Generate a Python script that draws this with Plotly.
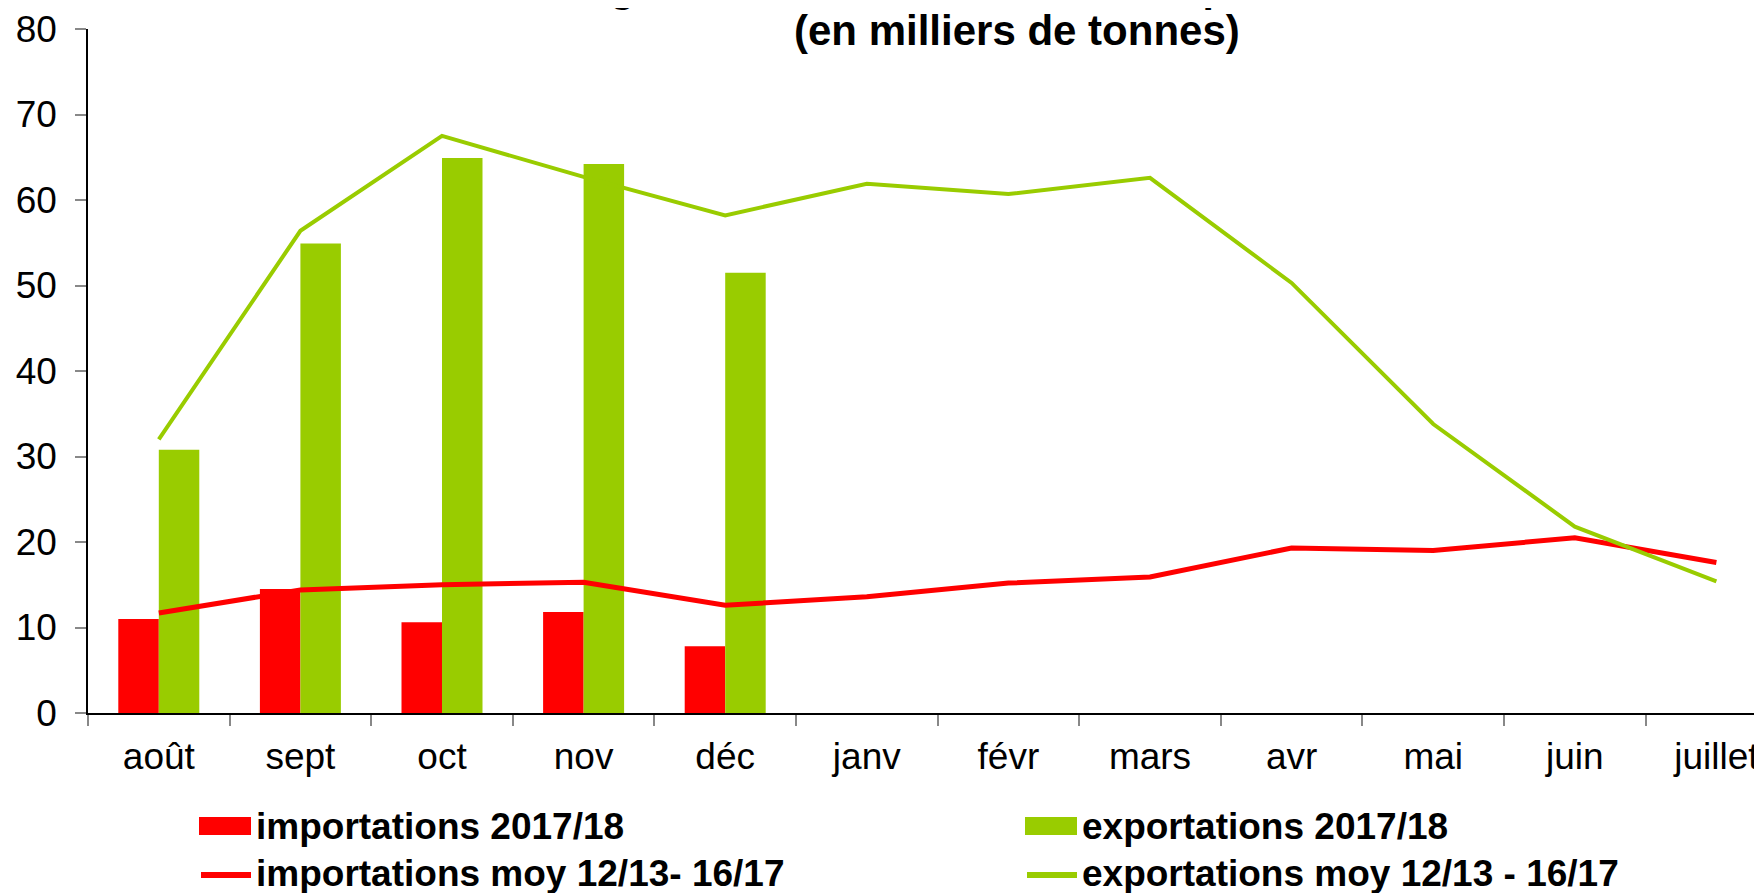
import plotly.graph_objects as go

months = ["août", "sept", "oct", "nov", "déc", "janv", "févr", "mars", "avr", "mai", "juin", "juillet"]
months_2017 = months[:5]
imp_2017 = [11.0, 14.5, 10.6, 11.8, 7.8]
exp_2017 = [30.8, 54.9, 64.9, 64.2, 51.5]
imp_moy = [11.7, 14.4, 15.0, 15.3, 12.6, 13.6, 15.2, 15.9, 19.3, 19.0, 20.5, 17.6]
exp_moy = [32.0, 56.4, 67.5, 62.7, 58.2, 61.9, 60.7, 62.6, 50.3, 33.8, 21.8, 15.4]
y_ticks = [0, 10, 20, 30, 40, 50, 60, 70, 80]

names = ["importations 2017/18", "exportations 2017/18",
         "importations moy 12/13- 16/17", "exportations moy 12/13 - 16/17"]
title_lines = ["Échanges mensuels de la France en pommes", "(en milliers de tonnes)"]

RED = "#FF0000"
GREEN = "#99CC00"
FONT = "Liberation Sans, Arial, sans-serif"

OFF = 8  # page body margin
W, H = 1762 - OFF, 893 - OFF
ML, MR, MT, MB = 80, 0, 21, 180
PW, PH = W - ML - MR, H - MT - MB
CAT_W = 141.6


def px(x):
    """window pixel x -> paper x"""
    return (x - OFF - ML) / PW


def py(y):
    """window pixel y -> paper y"""
    return (H - MB - (y - OFF)) / PH


fig = go.Figure()
fig.add_trace(go.Bar(x=months_2017, y=imp_2017, name=names[0], marker_color=RED,
                     marker_line_width=0))
fig.add_trace(go.Bar(x=months_2017, y=exp_2017, name=names[1], marker_color=GREEN,
                     marker_line_width=0))
fig.add_trace(go.Scatter(x=months, y=imp_moy, name=names[2], mode="lines",
                         line=dict(color=RED, width=5)))
fig.add_trace(go.Scatter(x=months, y=exp_moy, name=names[3], mode="lines",
                         line=dict(color=GREEN, width=4)))

fig.update_layout(
    width=W, height=H,
    margin=dict(l=ML, r=MR, t=MT, b=MB, pad=0, autoexpand=False),
    paper_bgcolor="white", plot_bgcolor="white",
    barmode="group", bargap=0.428, bargroupgap=0,
    showlegend=False,
    font=dict(family=FONT, color="black", size=37),
)

fig.update_xaxes(
    type="category", categoryorder="array", categoryarray=months,
    range=[-0.5, -0.5 + PW / CAT_W], automargin=False,
    showline=True, linecolor="black", linewidth=2,
    ticks="outside", tickson="boundaries", ticklen=11, tickcolor="#888888", tickwidth=1.5,
    showgrid=False, zeroline=False,
    tickfont=dict(family=FONT, size=37, color="black"),
    ticklabelstandoff=10,
)
fig.update_yaxes(
    range=[0, 80], tickvals=y_ticks, automargin=False,
    showline=True, linecolor="black", linewidth=1.5,
    ticks="outside", ticklen=11, tickcolor="#888888", tickwidth=1.5,
    showgrid=False, zeroline=False,
    tickfont=dict(family=FONT, size=37, color="black"),
    ticklabelstandoff=11,
)

# Title (first line largely cut off at the top edge, as in the reference)
fig.add_annotation(text="<b>" + title_lines[0] + "</b>", xref="paper", yref="paper",
                   x=px(485), y=py(-12), xanchor="left", yanchor="middle",
                   showarrow=False, font=dict(family=FONT, size=41, color="black"))
fig.add_annotation(text="<b>" + title_lines[1] + "</b>", xref="paper", yref="paper",
                   x=px(1017), y=py(31), xanchor="center", yanchor="middle",
                   showarrow=False, font=dict(family=FONT, size=42, color="black"))

# Manual legend
legend_items = [
    (names[0], RED, "rect", 199, 826),
    (names[1], GREEN, "rect", 1025, 826),
    (names[2], RED, "line", 199, 873),
    (names[3], GREEN, "line", 1025, 873),
]
for text, color, kind, x0, yc in legend_items:
    if kind == "rect":
        fig.add_shape(type="rect", xref="paper", yref="paper",
                      x0=px(x0), x1=px(x0 + 52), y0=py(yc - 9), y1=py(yc + 9),
                      fillcolor=color, line_width=0)
    else:
        fig.add_shape(type="line", xref="paper", yref="paper",
                      x0=px(x0 + 2), x1=px(x0 + 52), y0=py(yc + 2), y1=py(yc + 2),
                      line=dict(color=color, width=6))
    fig.add_annotation(text="<b>" + text + "</b>", xref="paper", yref="paper",
                       x=px(x0 + 55), y=py(yc), xanchor="left", yanchor="middle",
                       showarrow=False, font=dict(family=FONT, size=37, color="black"))

fig.write_html("out.html")
